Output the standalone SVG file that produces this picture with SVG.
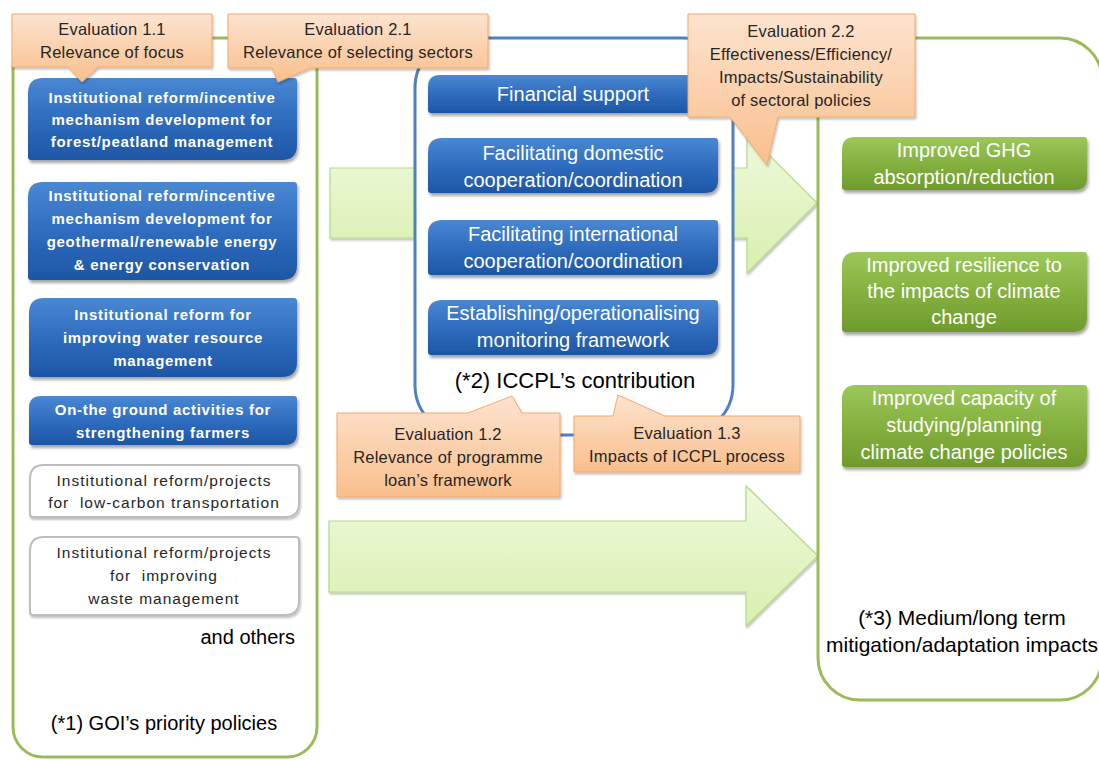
<svg xmlns="http://www.w3.org/2000/svg" width="1099" height="760" viewBox="0 0 1099 760">
<defs>
<linearGradient id="gBlue" x1="0" y1="0" x2="0" y2="1"><stop offset="0" stop-color="#4a88d2"/><stop offset="0.5" stop-color="#2f6cbf"/><stop offset="1" stop-color="#1d56a4"/></linearGradient>
<linearGradient id="gGreen" x1="0" y1="0" x2="0" y2="1"><stop offset="0" stop-color="#9cc75a"/><stop offset="0.5" stop-color="#84b13f"/><stop offset="1" stop-color="#6f9b2c"/></linearGradient>
<linearGradient id="gPeach" x1="0" y1="0" x2="0" y2="1"><stop offset="0" stop-color="#fde3cf"/><stop offset="1" stop-color="#f9bf8c"/></linearGradient>
<linearGradient id="gArrow" x1="0" y1="0" x2="0" y2="1"><stop offset="0" stop-color="#eef9dd"/><stop offset="1" stop-color="#d8f0ad"/></linearGradient>
<filter id="sh" x="-10%" y="-10%" width="120%" height="130%"><feDropShadow dx="1.5" dy="3" stdDeviation="1.8" flood-color="#000" flood-opacity="0.35"/></filter>
<filter id="shl" x="-10%" y="-10%" width="120%" height="130%"><feDropShadow dx="1" dy="2" stdDeviation="1.2" flood-color="#000" flood-opacity="0.25"/></filter>
</defs>
<style>
.gc{fill:#fff;stroke:#9bbb59;stroke-width:3}
.bc{fill:#fff;stroke:#4f81bd;stroke-width:3}
.bb{fill:url(#gBlue);filter:url(#sh)}
.gb{fill:url(#gGreen);filter:url(#sh)}
.wb{fill:#fff;stroke:#bdbdbd;stroke-width:2;filter:url(#shl)}
.co{fill:url(#gPeach);stroke:#f5a86a;stroke-width:1;filter:url(#shl)}
.ar{fill:url(#gArrow);stroke:#b7d88c;stroke-width:1.2;filter:url(#shl)}
text{font-family:"Liberation Sans",Arial,sans-serif;text-anchor:middle;white-space:pre}
.tb{fill:#fff;font-weight:bold;font-size:15px;letter-spacing:0.7px}
.tm{fill:#fff;font-size:20px}
.tg{fill:#fff;font-size:20px}
.tw{fill:#262626;font-size:15.5px;letter-spacing:1px}
.tc{fill:#262626;font-size:16.5px;letter-spacing:0.2px}
.tl{fill:#000;font-size:20px}
.tr{fill:#000;font-size:21px}
</style>

<g id="connectors">
<path class="ar" d="M330,168 H747 V133 L817,203 L747,273 V238 H330 Z"/>
<path class="ar" d="M329,521 H746 V486 L818,556 L746,626 V592 H329 Z"/>
</g>

<g id="goi-policies">
<rect class="gc" x="13" y="38" width="304" height="719" rx="30"/>
<text class="tl" x="164" y="730">(*1) GOI’s priority policies</text>
<text class="tl" x="295" y="644" style="text-anchor:end">and others</text>
</g>

<g id="policy-forest">
<path class="bb" d="M43,78 H294 Q297,78 297,81 V145 Q297,160 282,160 H31 Q28,160 28,157 V93 Q28,78 43,78 Z"/>
<text class="tb" x="162" y="103">Institutional reform/incentive</text>
<text class="tb" x="162" y="125">mechanism development for</text>
<text class="tb" x="162" y="147">forest/peatland management</text>
</g>
<g id="policy-energy">
<path class="bb" d="M43,182 H294 Q297,182 297,185 V265 Q297,280 282,280 H31 Q28,280 28,277 V197 Q28,182 43,182 Z"/>
<text class="tb" x="162" y="201">Institutional reform/incentive</text>
<text class="tb" x="162" y="224">mechanism development for</text>
<text class="tb" x="162" y="247">geothermal/renewable energy</text>
<text class="tb" x="162" y="270">&amp; energy conservation</text>
</g>
<g id="policy-water">
<path class="bb" d="M44,298 H294 Q297,298 297,301 V362 Q297,377 282,377 H32 Q29,377 29,374 V313 Q29,298 44,298 Z"/>
<text class="tb" x="163" y="320">Institutional reform for</text>
<text class="tb" x="163" y="343">improving water resource</text>
<text class="tb" x="163" y="366">management</text>
</g>
<g id="policy-farmers">
<path class="bb" d="M44,396 H294 Q297,396 297,399 V433 Q297,445 285,445 H32 Q29,445 29,442 V408 Q29,396 41,396 Z"/>
<text class="tb" x="163" y="415">On-the ground activities for</text>
<text class="tb" x="163" y="438">strengthening farmers</text>
</g>
<g id="policy-transport">
<path class="wb" d="M44,465 H296 Q299,465 299,468 V503 Q299,517 285,517 H33 Q30,517 30,514 V479 Q30,465 44,465 Z"/>
<text class="tw" x="164" y="486">Institutional reform/projects</text>
<text class="tw" x="164" y="508">for  low-carbon transportation</text>
</g>
<g id="policy-waste">
<path class="wb" d="M44,537 H296 Q299,537 299,540 V601 Q299,615 285,615 H33 Q30,615 30,612 V551 Q30,537 44,537 Z"/>
<text class="tw" x="164" y="558">Institutional reform/projects</text>
<text class="tw" x="164" y="581">for  improving</text>
<text class="tw" x="164" y="604">waste management</text>
</g>

<g id="iccpl">
<rect class="bc" x="415" y="38" width="318" height="397" rx="50"/>
<text x="575" y="388" style="font-size:22px;fill:#000">(*2) ICCPL’s contribution</text>
</g>
<g id="financial">
<path class="bb" d="M440,75 H715 Q718,75 718,78 V101 Q718,113 706,113 H431 Q428,113 428,110 V87 Q428,75 440,75 Z"/>
<text class="tm" x="573" y="101">Financial support</text>
</g>
<g id="domestic">
<path class="bb" d="M442,138 H715 Q718,138 718,141 V180 Q718,193 705,193 H431 Q428,193 428,190 V152 Q428,138 442,138 Z"/>
<text class="tm" x="573" y="160">Facilitating domestic</text>
<text class="tm" x="573" y="187">cooperation/coordination</text>
</g>
<g id="international">
<path class="bb" d="M442,220 H715 Q718,220 718,223 V262 Q718,275 705,275 H431 Q428,275 428,272 V234 Q428,220 442,220 Z"/>
<text class="tm" x="573" y="241">Facilitating international</text>
<text class="tm" x="573" y="268">cooperation/coordination</text>
</g>
<g id="monitoring">
<path class="bb" d="M442,300 H715 Q718,300 718,303 V342 Q718,355 705,355 H431 Q428,355 428,352 V314 Q428,300 442,300 Z"/>
<text class="tm" x="573" y="320">Establishing/operationalising</text>
<text class="tm" x="573" y="347">monitoring framework</text>
</g>

<g id="impacts">
<rect class="gc" x="818" y="38" width="284" height="662" rx="42"/>
<text class="tr" x="962" y="625">(*3) Medium/long term</text>
<text class="tr" x="962" y="652">mitigation/adaptation impacts</text>
</g>
<g id="ghg">
<path class="gb" d="M855,137 H1084 Q1087,137 1087,140 V178 Q1087,190 1075,190 H845 Q842,190 842,187 V150 Q842,137 855,137 Z"/>
<text class="tg" x="964" y="157">Improved GHG</text>
<text class="tg" x="964" y="184">absorption/reduction</text>
</g>
<g id="resilience">
<path class="gb" d="M856,252 H1084 Q1087,252 1087,255 V318 Q1087,332 1073,332 H845 Q842,332 842,329 V266 Q842,252 856,252 Z"/>
<text class="tg" x="964" y="272">Improved resilience to</text>
<text class="tg" x="964" y="298">the impacts of climate</text>
<text class="tg" x="964" y="324">change</text>
</g>
<g id="capacity">
<path class="gb" d="M856,385 H1084 Q1087,385 1087,388 V453 Q1087,467 1073,467 H845 Q842,467 842,464 V399 Q842,385 856,385 Z"/>
<text class="tg" x="964" y="405">Improved capacity of</text>
<text class="tg" x="964" y="432">studying/planning</text>
<text class="tg" x="964" y="459">climate change policies</text>
</g>

<g id="eval-1-1">
<path class="co" d="M12,14 H212 V67 H98 L82,82 L68,67 H12 Z"/>
<text class="tc" x="112" y="35">Evaluation 1.1</text>
<text class="tc" x="112" y="58">Relevance of focus</text>
</g>
<g id="eval-2-1">
<path class="co" d="M228,14 H488 V68 H310 L278,82 L272,68 H228 Z"/>
<text class="tc" x="358" y="35">Evaluation 2.1</text>
<text class="tc" x="358" y="58">Relevance of selecting sectors</text>
</g>
<g id="eval-2-2">
<path class="co" d="M688,14 H915 V117 H778 L767,165 L730,117 H688 Z"/>
<text class="tc" x="801" y="37">Evaluation 2.2</text>
<text class="tc" x="801" y="60">Effectiveness/Efficiency/</text>
<text class="tc" x="801" y="83">Impacts/Sustainability</text>
<text class="tc" x="801" y="106">of sectoral policies</text>
</g>
<g id="eval-1-2">
<path class="co" d="M337,413 H468 L512,396 L522,413 H560 V497 H337 Z"/>
<text class="tc" x="448" y="440">Evaluation 1.2</text>
<text class="tc" x="448" y="463">Relevance of programme</text>
<text class="tc" x="448" y="486">loan’s framework</text>
</g>
<g id="eval-1-3">
<path class="co" d="M574,416 H613 L618,395 L665,416 H800 V472 H574 Z"/>
<text class="tc" x="687" y="439">Evaluation 1.3</text>
<text class="tc" x="687" y="462">Impacts of ICCPL process</text>
</g>
</svg>
